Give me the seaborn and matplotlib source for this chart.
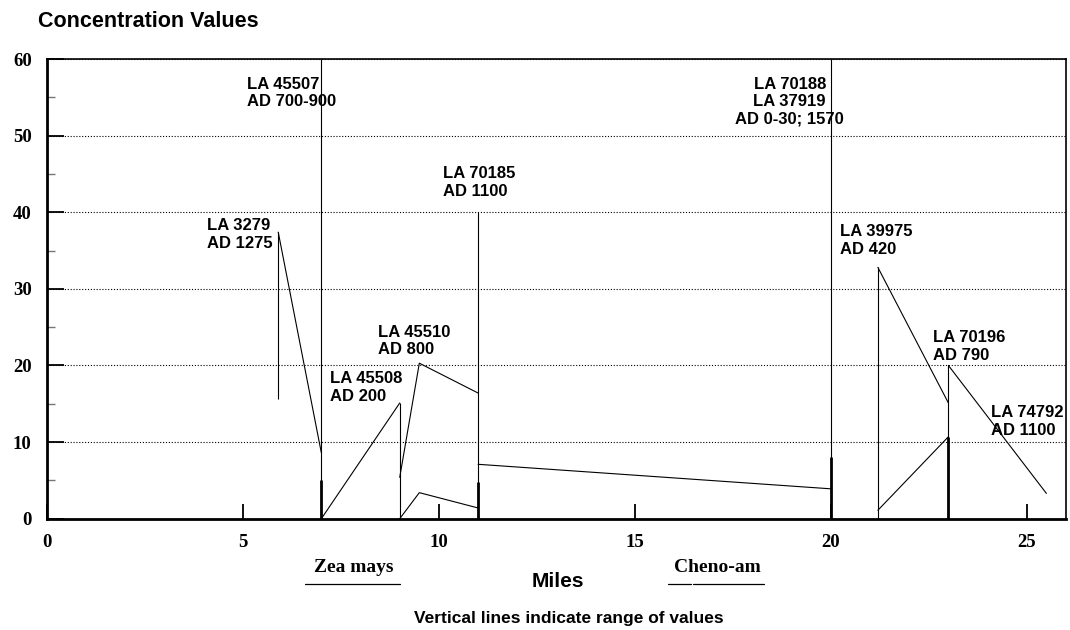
import numpy as np
import pandas as pd
import matplotlib
matplotlib.use("Agg")
import matplotlib.pyplot as plt
import seaborn as sns
from matplotlib.lines import Line2D

# ---------------- data ----------------
trace_id = ["a", "a", "b", "b", "b", "c", "c", "d", "d",
            "e", "e", "f", "f", "f", "g", "g", "h", "h"]
trace_mile = [5.9, 7.0, 9.0, 9.5, 11.0, 21.2, 23.0, 23.0, 25.5,
              7.0, 9.0, 9.0, 9.5, 11.0, 11.0, 20.0, 21.2, 23.0]
trace_value = [37.4, 8.6, 5.4, 20.3, 16.4, 32.8, 15.1, 20.0, 3.3,
               0.0, 15.1, 0.0, 3.4, 1.4, 7.1, 3.9, 1.1, 10.7]

range_mile = [5.9, 7.0, 9.0, 11.0, 20.0, 21.2, 23.0]
range_low = [15.6, 0, 0, 0, 0, 0, 0]
range_high = [37.4, 60, 15.1, 40, 60, 32.8, 20.0]

inner_mile = [7.0, 11.0, 20.0, 23.0]
inner_low = [0, 0, 0, 0]
inner_high = [5.1, 4.8, 8.0, 10.7]

site_labels = ["LA 3279\nAD 1275", "LA 45507\nAD 700-900", "LA 45508\nAD 200",
               "LA 45510\nAD 800", "LA 70185\nAD 1100", "LA 70188\nLA 37919\nAD 0-30; 1570",
               "LA 39975\nAD 420", "LA 70196\nAD 790", "LA 74792\nAD 1100"]
label_x = [4.08, 5.10, 7.22, 8.44, 10.10, 18.95, 20.23, 22.60, 24.08]
label_y = [37.1, 55.6, 17.1, 23.2, 43.9, 54.4, 36.3, 22.5, 12.7]
label_ha = ["left", "left", "left", "left", "left", "center", "left", "left", "left"]

x_ticks = [0, 5, 10, 15, 20, 25]
y_ticks = [0, 10, 20, 30, 40, 50, 60]
y_minor = [5, 15, 25, 35, 45, 55]

legend_names = ["Zea mays", "Cheno-am"]

# ---------------- style ----------------
sns.set_style("white")
plt.rcParams["font.family"] = ["Liberation Sans", "DejaVu Sans"]
plt.rcParams["text.color"] = "black"
plt.rcParams["axes.labelcolor"] = "black"
plt.rcParams["xtick.color"] = "black"
plt.rcParams["ytick.color"] = "black"

W, H = 1070, 630
fig = plt.figure(figsize=(W / 100, H / 100), dpi=100)
ax = fig.add_axes([47 / W, (H - 518.7) / H, 1019 / W, 459.7 / H])

df = pd.DataFrame({"trace": trace_id, "mile": trace_mile, "value": trace_value})
sns.lineplot(data=df, x="mile", y="value", units="trace", estimator=None,
             sort=False, color="black", lw=0.8, ax=ax, legend=False)

ax.vlines(range_mile, range_low, range_high, color="black", lw=0.8, zorder=3)
ax.vlines(inner_mile, inner_low, inner_high, color="black", lw=2.0, zorder=3)

ax.set_xlim(0, 26)
ax.set_ylim(0, 60)
ax.set_xticks(x_ticks)
ax.set_yticks(y_ticks)
ax.set_yticks(y_minor, minor=True)
ax.set_xlabel("")
ax.set_ylabel("")

serif = {"family": "Liberation Serif", "weight": "bold", "size": 13.5, "color": "black"}
ax.set_xticklabels([str(t) for t in x_ticks], fontdict=serif)
ax.set_yticklabels([str(t) for t in y_ticks], fontdict=serif)
ax.tick_params(axis="x", which="major", direction="in", length=11, width=1.3,
               color="black", labelcolor="black", pad=11, bottom=True)
ax.tick_params(axis="y", which="major", direction="in", length=12, width=1.3,
               color="black", labelcolor="black", pad=11, left=True)
ax.tick_params(axis="y", which="minor", direction="in", length=6, width=1.0,
               color="#777777", left=True)

ax.grid(axis="y", which="major", color="black", lw=0.8, ls=(0, (1, 1.6)))
ax.set_axisbelow(True)

for side in ["left", "bottom"]:
    ax.spines[side].set_linewidth(2.0)
    ax.spines[side].set_color("black")
for side in ["top", "right"]:
    ax.spines[side].set_linewidth(1.2)
    ax.spines[side].set_color("black")
    ax.spines[side].set_visible(True)

for txt, lx, ly, ha in zip(site_labels, label_x, label_y, label_ha):
    ax.text(lx, ly, txt, ha=ha, va="center", multialignment=ha,
            fontsize=12, fontweight="bold", linespacing=1.2, zorder=5,
            color="black")

fig.text(38 / W, 1 - 27 / H, "Concentration Values", fontsize=15.5,
         fontweight="bold", ha="left", va="baseline", color="black")
fig.text(558 / W, 1 - 587 / H, "Miles", fontsize=15, fontweight="bold",
         ha="center", va="baseline", color="black")
fig.text(569 / W, 1 - 623 / H, "Vertical lines indicate range of values",
         fontsize=12.5, fontweight="bold", ha="center", va="baseline",
         color="black")

fig.text(354 / W, 1 - 572 / H, legend_names[0], fontfamily="Liberation Serif",
         fontweight="bold", fontsize=14, ha="center", va="baseline", color="black")
fig.text(717 / W, 1 - 572 / H, legend_names[1], fontfamily="Liberation Serif",
         fontweight="bold", fontsize=14, ha="center", va="baseline", color="black")
fig.add_artist(Line2D([305 / W, 400 / W], [1 - 584 / H, 1 - 584 / H],
                      color="black", lw=0.9))
fig.add_artist(Line2D([668 / W, 691 / W], [1 - 584 / H, 1 - 584 / H],
                      color="black", lw=0.9))
fig.add_artist(Line2D([693 / W, 764 / W], [1 - 584 / H, 1 - 584 / H],
                      color="black", lw=0.9))

fig.savefig("out.png", dpi=100)
